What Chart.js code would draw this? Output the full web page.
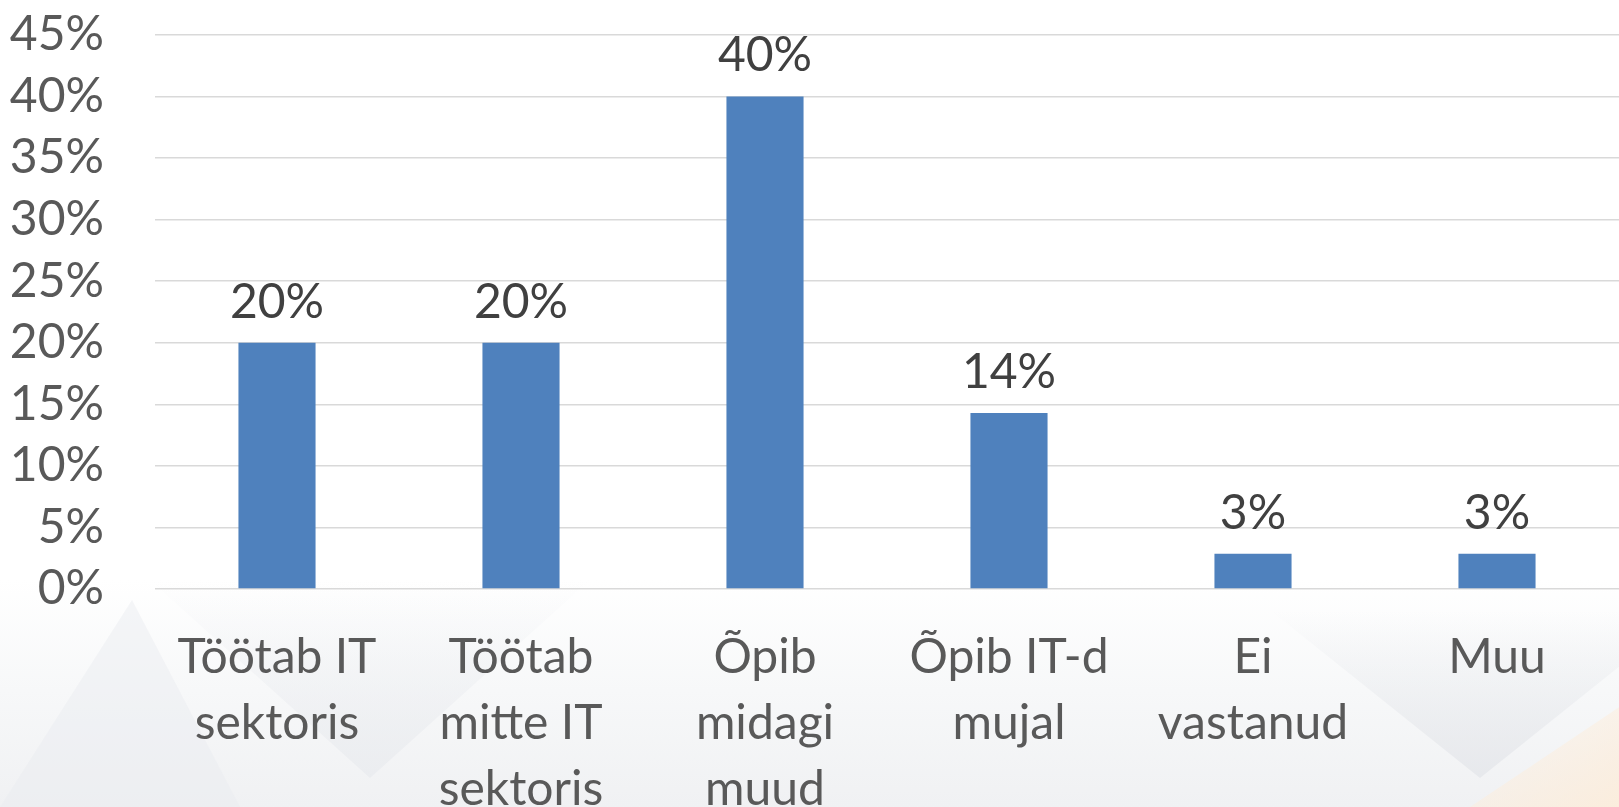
<!DOCTYPE html>
<html>
<head>
<meta charset="utf-8">
<script src="https://cdn.jsdelivr.net/npm/chart.js@4.4.1/dist/chart.umd.min.js"></script>
<style>
  html, body { margin: 0; padding: 0; width: 1619px; height: 807px; overflow: hidden; background: #ffffff; }
  #bg { position: absolute; left: 0; top: 0; width: 1619px; height: 807px; overflow: hidden;
        background: linear-gradient(to bottom, #ffffff 0px, #ffffff 580px, #f7f8f9 690px, #f0f1f3 807px); }
  .tri { position: absolute; }
  #wrap { position: absolute; left: 0; top: -45px; width: 1619px; height: 904px; }
</style>
</head>
<body>
<div id="bg">
  <div class="tri" style="left:150px;top:580px;width:440px;height:198px;background:linear-gradient(to bottom,rgba(255,255,255,0),rgba(232,234,238,0.7));clip-path:polygon(0 0,100% 0,50% 100%);"></div>
  <div class="tri" style="left:1270px;top:610px;width:420px;height:168px;background:linear-gradient(to bottom,rgba(255,255,255,0),rgba(228,230,234,0.8));clip-path:polygon(0 0,100% 0,50% 100%);"></div>
  <div class="tri" style="left:0px;top:600px;width:240px;height:207px;background:rgba(232,235,239,0.45);clip-path:polygon(0 100%,100% 100%,55% 0);"></div>
  <div class="tri" style="left:1470px;top:700px;width:160px;height:107px;background:linear-gradient(to bottom right,rgba(255,245,235,0.1),rgba(253,236,216,0.85));clip-path:polygon(100% 0,100% 100%,0 100%);"></div>
</div>
<div id="wrap"><canvas id="c"></canvas></div>
<script>
const categories = [
  ["Töötab IT", "sektoris"],
  ["Töötab", "mitte IT", "sektoris"],
  ["Õpib", "midagi", "muud"],
  ["Õpib IT-d", "mujal"],
  ["Ei", "vastanud"],
  ["Muu"]
];
// shares of 35 respondents, in percent
const values = [20.0, 20.0, 40.0, 14.29, 2.86, 2.86];
const yMin = 0, yMax = 45, yStep = 5;

const FONT = "Lato, 'Open Sans', sans-serif";

const valueLabels = {
  id: 'valueLabels',
  afterDatasetsDraw(chart) {
    const ctx = chart.ctx;
    const meta = chart.getDatasetMeta(0);
    ctx.save();
    ctx.font = "48px " + FONT;
    ctx.fillStyle = "#404040";
    ctx.textAlign = "center";
    ctx.textBaseline = "alphabetic";
    meta.data.forEach((bar, i) => {
      ctx.fillText(Math.round(values[i]) + "%", bar.x, bar.y - 25);
    });
    ctx.restore();
  }
};

new Chart(document.getElementById('c'), {
  type: 'bar',
  data: {
    labels: categories,
    datasets: [{
      data: values,
      backgroundColor: '#4f81bd',
      borderWidth: 0,
      barPercentage: 0.316,
      categoryPercentage: 1.0
    }]
  },
  plugins: [valueLabels],
  options: {
    responsive: true,
    maintainAspectRatio: false,
    animation: false,
    layout: { padding: { left: 0, right: 0, top: 4, bottom: 0 } },
    plugins: { legend: { display: false }, tooltip: { enabled: false } },
    scales: {
      x: {
        grid: { display: false, drawTicks: false },
        border: { display: false },
        ticks: {
          color: '#595959',
          font: { family: FONT, size: 48, lineHeight: 1.375 },
          padding: 36,
          maxRotation: 0,
          autoSkip: false
        }
      },
      y: {
        min: yMin,
        max: yMax,
        afterFit(axis) { axis.width = 155; },
        grid: { color: '#d9d9d9', lineWidth: 1.5, drawTicks: false },
        border: { display: false },
        ticks: {
          stepSize: yStep,
          autoSkip: false,
          color: '#595959',
          font: { family: FONT, size: 48 },
          padding: 51,
          callback: v => v + '%'
        }
      }
    }
  }
});
</script>
</body>
</html>
